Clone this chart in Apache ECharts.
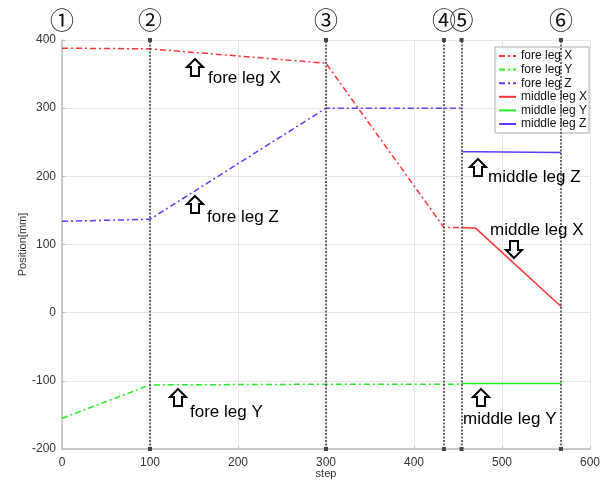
<!DOCTYPE html>
<html><head><meta charset="utf-8">
<script src="https://cdn.jsdelivr.net/npm/echarts@6/dist/echarts.min.js"></script>
<style>html,body{margin:0;padding:0;background:#fff}#c{width:607px;height:485px}</style>
</head><body><div id="c"></div>
<script>
// ---- data ----
const foreSteps = [0, 100, 300, 434, 454];
const foreX = [388, 387, 366, 125, 125];
const foreY = [-155, -106, -105, -105, -105];
const foreZ = [134, 137, 300, 300, 300];
const middleSteps = [454, 470, 567];
const middleX = [125, 124, 9];
const middleY = [-104, -104, -104];
const middleZ = [236, 236, 235];
const phaseSteps = [0, 100, 300, 434, 454, 567];
const phaseLabels = ['①', '②', '③', '④', '⑤', '⑥'];
const seriesNames = ['fore leg X', 'fore leg Y', 'fore leg Z', 'middle leg X', 'middle leg Y', 'middle leg Z'];
const annotations = [
  {text: 'fore leg X', dir: 'up'},
  {text: 'fore leg Z', dir: 'up'},
  {text: 'fore leg Y', dir: 'up'},
  {text: 'middle leg Z', dir: 'up'},
  {text: 'middle leg Y', dir: 'up'},
  {text: 'middle leg X', dir: 'down'}
];

const zip = (xs, ys) => xs.map((x, i) => [x, ys[i]]);
const RED = '#ff3535', GREEN = '#22ee22', BLUE = '#5b3cff';
const dashDot = [6, 3, 2, 3];

function mkSeries(name, xs, ys, color, dashed) {
  return {
    name, type: 'line', data: zip(xs, ys), symbol: 'none', z: 3,
    itemStyle: {color},
    lineStyle: {color, width: 1.5, type: dashed ? dashDot : 'solid'}
  };
}

// annotation layout (pixel positions)
const annoPos = [
  {ax: 187, ay: 59, tx: 208, ty: 78.5},
  {ax: 187, ay: 196, tx: 207, ty: 217.5},
  {ax: 170, ay: 389, tx: 190, ty: 412.5},
  {ax: 470, ay: 159, tx: 488, ty: 177.5},
  {ax: 473, ay: 389, tx: 463, ty: 419.5},
  {ax: 506, ay: 241, tx: 490, ty: 230.5}
];
function arrowPts(dir) {
  const up = [[8, 0], [16, 8], [12, 8], [12, 17], [4, 17], [4, 8], [0, 8]];
  return dir === 'up' ? up : up.map(p => [p[0], 17 - p[1]]);
}
const graphics = [];
annotations.forEach((a, i) => {
  const p = annoPos[i];
  graphics.push({type: 'polygon', x: p.ax, y: p.ay, z: 10,
    shape: {points: arrowPts(a.dir)},
    style: {fill: '#fff', stroke: '#000', lineWidth: 2}});
  graphics.push({type: 'text', x: p.tx, y: p.ty, z: 10,
    style: {text: a.text, font: '17px "Liberation Sans", Arial, sans-serif', fill: '#000', verticalAlign: 'middle', align: 'left'}});
});

const chart = echarts.init(document.getElementById('c'));
chart.setOption({
  animation: false,
  grid: {left: 62, right: 17, top: 40, bottom: 36, containLabel: false, outerBoundsMode: 'none'},
  legend: {
    orient: 'vertical', left: 495, top: 47,
    data: seriesNames,
    itemWidth: 17, itemHeight: 12, itemGap: 1.6,
    padding: [3, 2, 3, 3],
    itemStyle: {opacity: 0},
    backgroundColor: '#fff', borderColor: '#aaa', borderWidth: 1,
    textStyle: {fontSize: 12, color: '#111', fontFamily: 'Liberation Sans, Arial, sans-serif'}
  },
  xAxis: {
    type: 'value', min: 0, max: 600, interval: 100,
    name: 'step', nameLocation: 'middle', nameGap: 19, nameMoveOverlap: false,
    nameTextStyle: {fontSize: 11, color: '#333', verticalAlign: 'top'},
    axisLine: {show: true, onZero: false, lineStyle: {color: '#bbb', width: 1.5}},
    axisTick: {show: true, inside: true, length: 3, lineStyle: {color: '#bbb'}},
    axisLabel: {fontSize: 12, color: '#333', margin: 8},
    splitLine: {show: true, lineStyle: {color: '#e8e8e8'}}
  },
  yAxis: {
    type: 'value', min: -200, max: 400, interval: 100,
    name: 'Position[mm]', nameLocation: 'middle', nameGap: 34, nameMoveOverlap: false,
    nameTextStyle: {fontSize: 11, color: '#333'},
    axisLine: {show: true, onZero: false, lineStyle: {color: '#bbb', width: 1.5}},
    axisTick: {show: true, inside: true, length: 3, lineStyle: {color: '#bbb'}},
    axisLabel: {fontSize: 12, color: '#333', margin: 6},
    splitLine: {show: true, lineStyle: {color: '#e8e8e8'}}
  },
  graphic: graphics,
  series: [
    mkSeries(seriesNames[0], foreSteps, foreX, RED, true),
    mkSeries(seriesNames[1], foreSteps, foreY, GREEN, true),
    mkSeries(seriesNames[2], foreSteps, foreZ, BLUE, true),
    mkSeries(seriesNames[3], middleSteps, middleX, RED, false),
    mkSeries(seriesNames[4], middleSteps, middleY, GREEN, false),
    mkSeries(seriesNames[5], middleSteps, middleZ, BLUE, false),
    {
      type: 'line', data: [], z: 5, silent: true,
      markLine: {
        silent: true, animation: false,
        symbol: ['rect', 'rect'], symbolSize: 4,
        lineStyle: {color: '#444', type: [2, 1.5], width: 1.6},
        itemStyle: {color: '#000'},
        label: {show: true, position: 'end', distance: 8, fontSize: 24, color: '#111',
          fontFamily: '"Noto Sans CJK JP", sans-serif',
          formatter: p => phaseLabels[phaseSteps.indexOf(p.value)]},
        data: phaseSteps.map((s, i) => i === 0
          ? {xAxis: s, symbol: 'none', lineStyle: {color: 'rgba(0,0,0,0)'}}
          : {xAxis: s})
      }
    }
  ]
});
</script>
</body></html>
